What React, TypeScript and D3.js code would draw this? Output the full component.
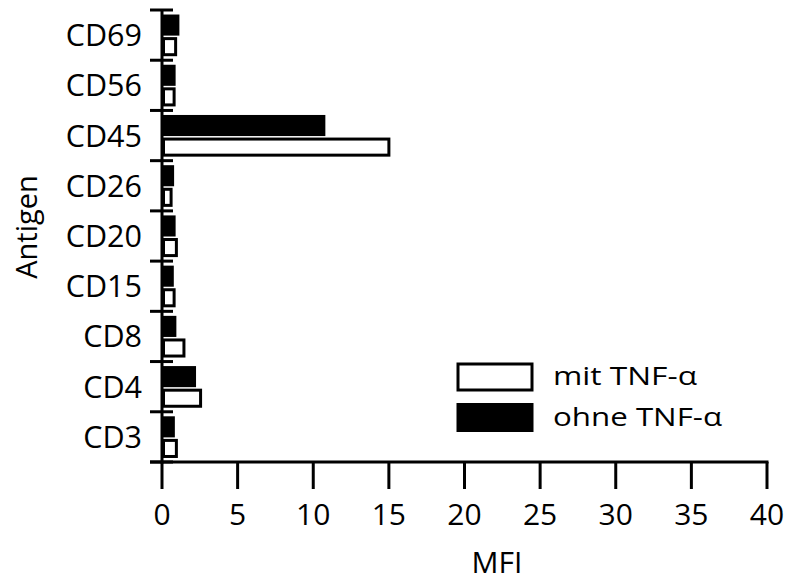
import React from "react";
import * as d3 from "d3";

const categories = ["CD69", "CD56", "CD45", "CD26", "CD20", "CD15", "CD8", "CD4", "CD3"];
const mitTNF = [1.0, 0.9, 15.1, 0.7, 1.05, 0.9, 1.55, 2.65, 1.05];
const ohneTNF = [1.15, 0.9, 10.8, 0.8, 0.9, 0.78, 0.95, 2.25, 0.85];
const xTicks = [0, 5, 10, 15, 20, 25, 30, 35, 40];
const legendLabels = ["mit TNF-α", "ohne TNF-α"];

const W = 787;
const H = 581;
const FONT = "'Open Sans', 'DejaVu Sans', sans-serif";

export default function App() {
  const x = d3.scaleLinear().domain([0, 40]).range([162, 767]);
  const y = d3.scaleBand<string>().domain(categories).range([10, 462]).padding(0);
  const bw = y.bandwidth();
  const sw = 3;

  return (
    <svg width={W} height={H} style={{ position: "absolute", left: 0, top: 0, background: "#fff" }}>
      <rect x={0} y={0} width={W} height={H} fill="#fff" />
      {/* bars */}
      {categories.map((c, i) => {
        const y0 = y(c) as number;
        const x0 = x(0);
        return (
          <g key={c}>
            <rect
              x={x0 + sw / 2}
              y={y0 + bw * 0.54 + sw / 2}
              width={Math.max(0, x(mitTNF[i]) - x0 - sw)}
              height={bw * 0.38 - sw}
              fill="#fff"
              stroke="#000"
              strokeWidth={sw}
            />
            <rect
              x={x0}
              y={y0 + bw * 0.09}
              width={x(ohneTNF[i]) - x0}
              height={bw * 0.42}
              fill="#000"
            />
          </g>
        );
      })}
      {/* y axis */}
      <line x1={x(0)} x2={x(0)} y1={10} y2={463.5} stroke="#000" strokeWidth={sw} />
      {d3.range(categories.length + 1).map((k) => {
        const yy = 10 + k * bw;
        return <line key={k} x1={150} x2={173} y1={yy} y2={yy} stroke="#000" strokeWidth={sw} />;
      })}
      {categories.map((c) => (
        <text
          key={c}
          x={142}
          y={(y(c) as number) + bw / 2 + 11}
          textAnchor="end"
          fontFamily={FONT}
          fontSize={30.5}
          fill="#000"
        >
          {c}
        </text>
      ))}
      <text
        transform={`translate(37,227) rotate(-90)`}
        textAnchor="middle"
        fontFamily={FONT}
        fontSize={29}
        fill="#000"
      >
        Antigen
      </text>
      {/* x axis */}
      <line x1={150} x2={x(40) + 1.5} y1={462} y2={462} stroke="#000" strokeWidth={sw} />
      {xTicks.map((t) => (
        <g key={t}>
          <line x1={x(t)} x2={x(t)} y1={462} y2={489} stroke="#000" strokeWidth={sw} />
          <text x={x(t)} y={525} textAnchor="middle" fontFamily={FONT} fontSize={30} fill="#000">
            {t}
          </text>
        </g>
      ))}
      <text x={497} y={573} textAnchor="middle" fontFamily={FONT} fontSize={30} fill="#000">
        MFI
      </text>
      {/* legend */}
      <rect x={458} y={364} width={74} height={26} fill="#fff" stroke="#000" strokeWidth={sw} />
      <rect x={456.5} y={403} width={77} height={29} fill="#000" />
      <text
        x={553}
        y={385}
        fontFamily={FONT}
        fontSize={26}
        fill="#000"
        textLength={144}
        lengthAdjust="spacingAndGlyphs"
      >
        {legendLabels[0]}
      </text>
      <text
        x={553}
        y={426}
        fontFamily={FONT}
        fontSize={26}
        fill="#000"
        textLength={169}
        lengthAdjust="spacingAndGlyphs"
      >
        {legendLabels[1]}
      </text>
    </svg>
  );
}
